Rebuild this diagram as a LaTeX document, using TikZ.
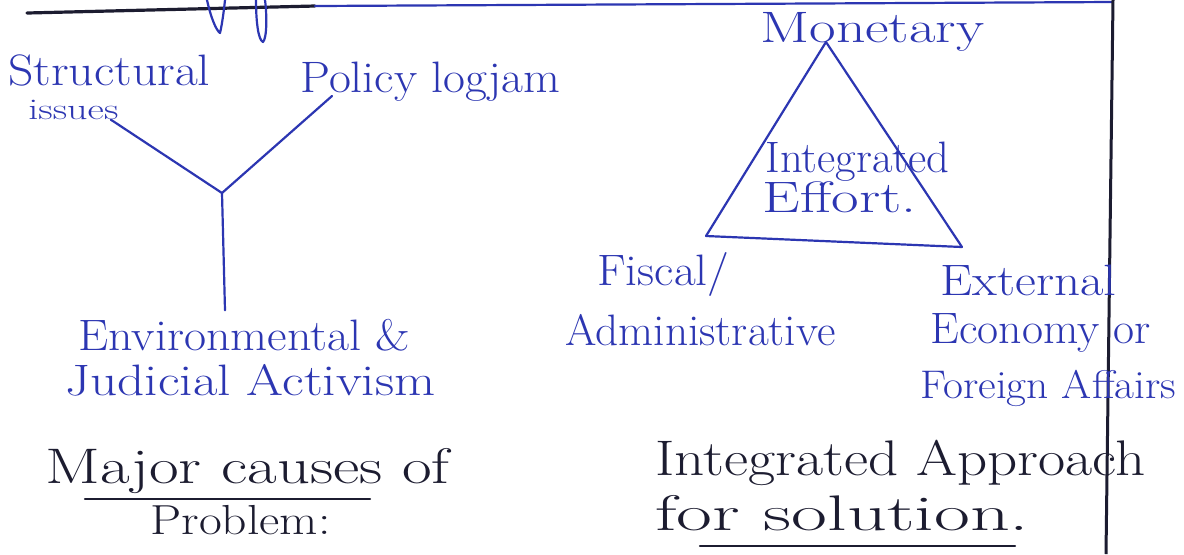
\documentclass[tikz,border=0pt]{standalone}
\usepackage{graphicx}
\definecolor{ink}{RGB}{44,54,178}
\definecolor{dark}{RGB}{28,28,48}
\newcommand{\hw}[2]{\resizebox{#1pt}{\height}{#2}}
\begin{document}
\begin{tikzpicture}[x=0.5pt,y=-0.5pt,
  lbl/.style={inner sep=0pt, anchor=base west, text=ink, font=\fontsize{22}{26}\selectfont},
  ttl/.style={inner sep=0pt, anchor=base west, text=dark, font=\fontsize{25}{30}\selectfont},
  pen/.style={draw=ink, line width=1.1pt, line cap=round, line join=round},
  darkpen/.style={draw=dark, line width=1.2pt, line cap=round},
]
\useasboundingbox (0,0) rectangle (1184,554);
\fill[white] (0,0) rectangle (1184,554);

% top rule and cut-off strokes
\coordinate (r0) at (27,13);
\coordinate (r1) at (315,6);
\coordinate (r2) at (1112,2);
\draw[darkpen, line width=1.6pt] (r0) -- (r1);
\draw[pen] (r1) -- (r2);
\draw[pen] (207,0) .. controls (211,18) and (216,30) .. (220,33) .. controls (222,25) and (224,10) .. (225,0);
\draw[pen] (256,0) .. controls (256,20) and (258,40) .. (263,42) .. controls (267,38) and (267,15) .. (265,0);

% margin line
\coordinate (m0) at (1113,0);
\coordinate (m1) at (1106,554);
\draw[dark, line width=1.5pt] (m0) -- (m1);

% ---- left: causes ----
\node[lbl] (si1) at (8,85) {\hw{101}{Structural}};
\node[lbl, font=\fontsize{15}{18}\selectfont] (si) at (28,119) {\hw{45}{issues}};
\node[lbl] (pl) at (300,92) {\hw{130}{Policy logjam}};
\node[lbl] (ej1) at (78,350) {\hw{166}{Environmental \&}};
\node[lbl] (ej2) at (65,395) {\hw{185}{Judicial Activism}};
\coordinate (j) at (222,193);
\draw[pen] ([xshift=-4pt]si.south east) -- (j);
\draw[pen] ([xshift=16pt,yshift=-2pt]pl.base west) -- (j);
\draw[pen] (j) -- ([xshift=1.5pt,yshift=4pt]j |- ej1.north);

\node[ttl] (mc1) at (45,483) {\hw{202}{Major causes of}};
\node[ttl, font=\fontsize{21}{24}\selectfont] (mc2) at (150,534) {\hw{90}{Problem:}};
\coordinate (u1a) at (85,499);
\coordinate (u1b) at (370,499);
\draw[darkpen] (u1a) -- (u1b);

% ---- right: integrated approach ----
\node[lbl] (mon) at (760,42) {\hw{112}{Monetary}};
\coordinate (tA) at (826,42);
\coordinate (tB) at (706,236);
\coordinate (tC) at (962,247);
\draw[pen] (tA) -- (tB) -- (tC) -- cycle;
\node[lbl] (ie1) at (765,172) {\hw{92}{Integrated}};
\node[lbl] (ie2) at (762,212) {\hw{77}{Effort.}};

\node[lbl] (fa1) at (597,285) {\hw{66}{Fiscal/}};
\node[lbl] (fa2) at (565,345) {\hw{135}{Administrative}};
\node[lbl] (ex1) at (940,295) {\hw{88}{External}};
\node[lbl] (ex2) at (930,343) {\hw{110}{Economy or}};
\node[lbl, font=\fontsize{20}{24}\selectfont] (ex3) at (920,398) {\hw{128}{Foreign Affairs}};

\node[ttl] (ia1) at (655,475) {\hw{245}{Integrated Approach}};
\node[ttl] (ia2) at (655,530) {\hw{187}{for solution.}};
\coordinate (u2a) at (700,546);
\coordinate (u2b) at (1015,546);
\draw[darkpen] (u2a) -- (u2b);
\end{tikzpicture}
\end{document}
